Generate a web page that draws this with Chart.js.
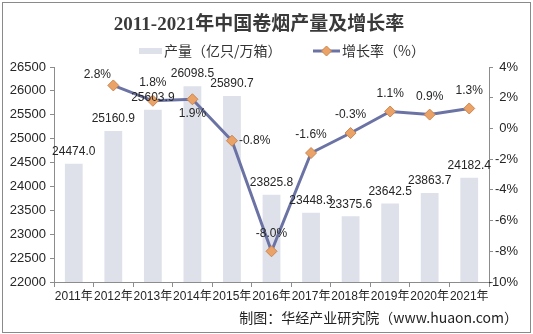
<!DOCTYPE html>
<html>
<head>
<meta charset="utf-8">
<script src="https://cdn.jsdelivr.net/npm/chart.js@4.4.1/dist/chart.umd.min.js"></script>
<style>
html,body{margin:0;padding:0;background:#fff;}
#wrap{width:533px;height:334px;position:relative;}
</style>
</head>
<body>
<div id="wrap"><canvas id="c" width="533" height="334"></canvas></div>
<script>
// ---- data ----
const categories = ['2011年','2012年','2013年','2014年','2015年','2016年','2017年','2018年','2019年','2020年','2021年'];
const output = [24474.0, 25160.9, 25603.9, 26098.5, 25890.7, 23825.8, 23448.3, 23375.6, 23642.5, 23863.7, 24182.4];
const growth = [null, 2.8, 1.8, 1.9, -0.8, -8.0, -1.6, -0.3, 1.1, 0.9, 1.3];
const leftTicks = [22000, 22500, 23000, 23500, 24000, 24500, 25000, 25500, 26000, 26500];
const rightTicks = [-10, -8, -6, -4, -2, 0, 2, 4];
const seriesNames = ['产量（亿只/万箱）', '增长率（%）'];
const titleText = '2011-2021年中国卷烟产量及增长率';
const sourceText = '制图：华经产业研究院（www.huaon.com）';
// label placement hints for the growth labels (style only)
const growthLabelPlace = ['', 'upleft', 'above', 'below', 'right', 'above', 'above', 'above', 'above', 'above', 'above'];

const SANS = '"Liberation Sans", Arial, "Noto Sans CJK SC", sans-serif';
const CJK = '"Noto Sans CJK SC", "Liberation Sans", sans-serif';
const AXIS_COLOR = '#8c8c8c';
const TEXT_COLOR = '#262626';
const BAR_COLOR = '#dee1ea';
const LINE_COLOR = '#6b73a4';
const MARK_FILL = '#eba266';
const MARK_EDGE = '#c98550';

const extras = {
  id: 'extras',
  afterDatasetsDraw(chart) {
    const ctx = chart.ctx;
    ctx.save();
    ctx.font = '12px ' + SANS;
    ctx.fillStyle = TEXT_COLOR;
    ctx.textBaseline = 'middle';
    const barMeta = chart.getDatasetMeta(1);
    barMeta.data.forEach((el, i) => {
      ctx.textAlign = 'center';
      ctx.fillText(output[i].toFixed(1), el.x, el.y - 12);
    });
    const lineMeta = chart.getDatasetMeta(0);
    lineMeta.data.forEach((el, i) => {
      if (growth[i] === null) return;
      const txt = growth[i].toFixed(1) + '%';
      const p = growthLabelPlace[i];
      let x = el.x, y = el.y - 18, a = 'center';
      if (p === 'below') { y = el.y + 14; }
      else if (p === 'right') { x = el.x + 7; y = el.y; a = 'left'; }
      else if (p === 'upleft') { x = el.x - 16; y = el.y - 11; }
      ctx.textAlign = a;
      ctx.fillText(txt, x, y);
    });
    ctx.restore();
  },
  afterDraw(chart) {
    const ctx = chart.ctx;
    ctx.save();
    // legend
    const ly = 51;
    ctx.fillStyle = BAR_COLOR;
    ctx.fillRect(139, ly - 3, 23, 6);
    ctx.font = '14px ' + CJK;
    ctx.fillStyle = '#333';
    ctx.textBaseline = 'middle';
    ctx.textAlign = 'left';
    ctx.fillText(seriesNames[0], 164, ly);
    ctx.strokeStyle = LINE_COLOR;
    ctx.lineWidth = 3;
    ctx.beginPath(); ctx.moveTo(313, ly); ctx.lineTo(340, ly); ctx.stroke();
    ctx.fillStyle = MARK_FILL;
    ctx.strokeStyle = MARK_EDGE;
    ctx.lineWidth = 1;
    ctx.beginPath();
    ctx.moveTo(326.5, ly - 5); ctx.lineTo(331.5, ly); ctx.lineTo(326.5, ly + 5); ctx.lineTo(321.5, ly); ctx.closePath();
    ctx.fill(); ctx.stroke();
    ctx.fillStyle = '#333';
    ctx.fillText(seriesNames[1], 342, ly);
    // outer frame
    ctx.strokeStyle = '#8a8a8a';
    ctx.lineWidth = 1;
    ctx.strokeRect(2.5, 2.5, 528, 330);
    ctx.restore();
  }
};

new Chart(document.getElementById('c'), {
  data: {
    labels: categories,
    datasets: [
      {
        type: 'line', label: seriesNames[1], data: growth, yAxisID: 'y1',
        borderColor: LINE_COLOR, borderWidth: 3, tension: 0,
        pointStyle: 'rectRot', pointRadius: 5.5, pointBackgroundColor: MARK_FILL,
        pointBorderColor: MARK_EDGE, pointBorderWidth: 1, order: 0
      },
      {
        type: 'bar', label: seriesNames[0], data: output, yAxisID: 'y',
        backgroundColor: BAR_COLOR, barPercentage: 0.45, categoryPercentage: 1, order: 1
      }
    ]
  },
  options: {
    responsive: false, animation: false, devicePixelRatio: 1,
    layout: { padding: { top: 0, left: 0, right: 15, bottom: 0 } },
    plugins: {
      legend: { display: false },
      tooltip: { enabled: false },
      title: {
        display: true, text: titleText, color: '#3a3a3a',
        font: { family: '"Liberation Serif", "Noto Sans CJK SC", serif', size: 19, weight: 'bold' },
        padding: { top: 13.6, bottom: 30.6 }
      },
      subtitle: {
        display: true, text: sourceText, position: 'bottom', align: 'end', color: '#222',
        font: { family: CJK, size: 14 },
        padding: { top: 0, bottom: 7.6 }
      }
    },
    scales: {
      x: {
        grid: { display: true, drawOnChartArea: false, drawTicks: true, tickLength: 5, color: AXIS_COLOR, offset: true },
        border: { display: true, color: AXIS_COLOR },
        ticks: { color: TEXT_COLOR, font: { family: SANS, size: 12 }, padding: 2, maxRotation: 0, autoSkip: false },
        afterFit(s) { s.height = 27.6; }
      },
      y: {
        position: 'left',
        min: leftTicks[0], max: leftTicks[leftTicks.length - 1],
        grid: { display: true, drawOnChartArea: false, drawTicks: true, tickLength: 4, color: AXIS_COLOR },
        border: { display: true, color: AXIS_COLOR },
        ticks: { stepSize: leftTicks[1] - leftTicks[0], color: TEXT_COLOR, font: { family: SANS, size: 13 }, padding: 4,
                 callback: v => String(v) },
        afterFit(s) { s.width = 54; }
      },
      y1: {
        position: 'right',
        min: rightTicks[0], max: rightTicks[rightTicks.length - 1],
        grid: { display: true, drawOnChartArea: false, drawTicks: true, tickLength: 4, color: AXIS_COLOR },
        border: { display: true, color: AXIS_COLOR },
        ticks: { stepSize: rightTicks[1] - rightTicks[0], color: TEXT_COLOR, font: { family: SANS, size: 13 }, padding: 4,
                 crossAlign: 'far', callback: v => v + '%' },
        afterFit(s) { s.width = 29; }
      }
    }
  },
  plugins: [extras]
});
</script>
</body>
</html>
